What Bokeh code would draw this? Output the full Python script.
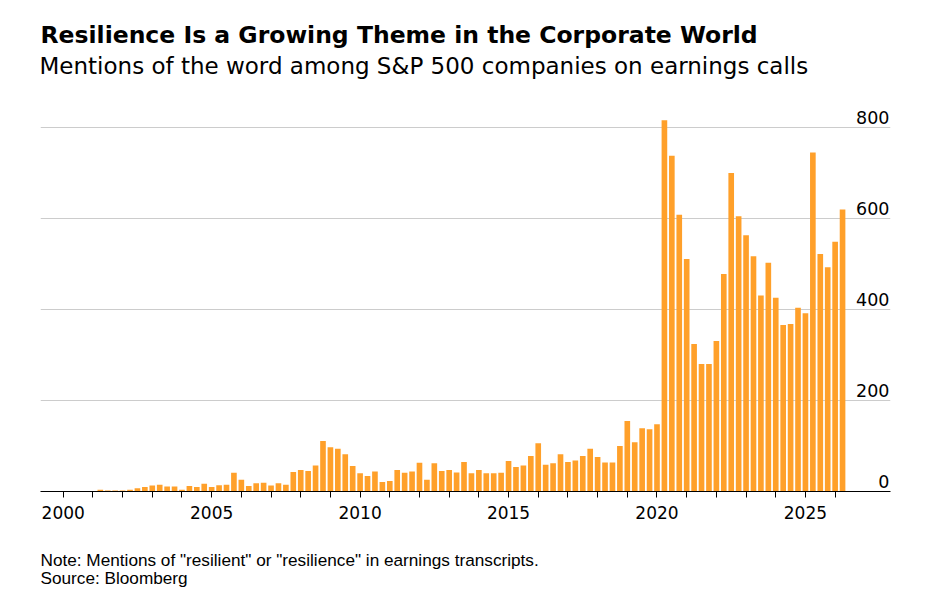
import pandas as pd
from bokeh.plotting import figure
from bokeh.models import FixedTicker, Title, Range1d, ColumnDataSource, Label
from bokeh.core.properties import value
from bokeh.embed import file_html
from bokeh.resources import INLINE

FONT = "DejaVu Sans"
FOOT_FONT = "Liberation Sans"

# Quarterly mentions, Q1 2001 .. Q1 2026 (bars dated at quarter end)
first_quarter = "2001Q1"
last_quarter = "2026Q1"
mentions = [
    4, 2, 2, 2,
    4, 7, 10, 13,
    15, 11, 11, 4,
    12, 10, 17, 10,
    14, 15, 41, 26,
    12, 18, 19, 13,
    18, 15, 43, 47,
    45, 57, 111, 97,
    94, 82, 56, 40,
    34, 44, 21, 23,
    47, 41, 44, 63,
    26, 62, 45, 47,
    42, 65, 40, 47,
    40, 40, 41, 67,
    54, 57, 78, 106,
    59, 62, 82, 65,
    68, 78, 94, 76,
    64, 64, 100, 155,
    108, 139, 137, 148,
    816, 738, 608, 511,
    324, 280, 280, 331,
    478, 700, 605, 563,
    517, 431, 503, 426,
    366, 368, 404, 392,
    745, 522, 493, 549,
    620,
]
y_ticks = [0, 200, 400, 600, 800]
y_tick_labels = ["0", "200", "400", "600", "800"]
x_tick_years = list(range(2000, 2027))
x_label_years = [2000, 2005, 2010, 2015, 2020, 2025]

title_text = "Resilience Is a Growing Theme in the Corporate World"
subtitle_text = "Mentions of the word among S&P 500 companies on earnings calls"
note_text = 'Note: Mentions of "resilient" or "resilience" in earnings transcripts.'
source_text = "Source: Bloomberg"

periods = pd.period_range(first_quarter, last_quarter, freq="Q")
x_vals = [p.year + p.quarter / 4 for p in periods]
src = ColumnDataSource(dict(x=x_vals, top=mentions))

# layout: frame spans from the top of the canvas to the baseline; the
# value scale is 0.455 px per mention so 800 sits 364 px above the baseline
FRAME_H = 491
PX_PER_UNIT = 0.455
Y_END = FRAME_H / PX_PER_UNIT
X0, X1 = 1999.235, 2027.865

p = figure(
    frame_width=850, frame_height=FRAME_H,
    min_border_left=40, min_border_right=40,
    min_border_top=0, min_border_bottom=6,
    x_range=Range1d(X0, X1), y_range=Range1d(0, Y_END),
    output_backend="svg", toolbar_location=None,
)
p.outline_line_color = None
p.background_fill_color = "white"
p.border_fill_color = "white"

p.vbar(x="x", top="top", width=0.19, bottom=0, source=src,
       fill_color="#FFA02A", line_color=None)

# grid
p.xgrid.visible = False
p.ygrid.ticker = FixedTicker(ticks=[t for t in y_ticks if t > 0])
p.ygrid.grid_line_color = "#CCCCCC"
p.ygrid.grid_line_width = 1
p.yaxis.visible = False

# right side value labels sitting above grid lines
lab = ColumnDataSource(dict(x=[X1] * len(y_ticks), y=y_ticks, t=y_tick_labels))
p.text(x="x", y="y", text="t", source=lab, text_align="right",
       text_baseline="alphabetic", y_offset=-10, x_offset=-1,
       text_font=value(FONT), text_font_size="17.5px", text_color="#000000")

# x axis
ax = p.xaxis[0]
ax.ticker = FixedTicker(ticks=x_tick_years)
ax.major_label_overrides = {y: (str(y) if y in x_label_years else "") for y in x_tick_years}
ax.minor_tick_line_color = None
ax.major_tick_in = 0
ax.major_tick_out = 6
ax.major_tick_line_color = "#000000"
ax.axis_line_color = "#000000"
ax.axis_line_width = 1.2
ax.major_label_text_font = FONT
ax.major_label_text_font_size = "17px"
ax.major_label_text_color = "#000000"
ax.major_label_standoff = 8

# title and subtitle positioned from the canvas top
def top_px(px):
    return Y_END - px / PX_PER_UNIT

p.add_layout(Label(x=X0, y=top_px(34), text=title_text, text_font=FONT,
                   text_font_size="23.5px", text_font_style="bold",
                   text_color="#000000", text_align="left",
                   text_baseline="alphabetic"))
p.add_layout(Label(x=X0, y=top_px(65), text=subtitle_text, text_font=FONT,
                   text_font_size="23px", text_font_style="normal",
                   text_color="#000000", text_align="left", x_offset=-1,
                   text_baseline="alphabetic"))

p.add_layout(Title(text=note_text + "\n" + source_text, text_font=FOOT_FONT,
                   text_font_size="17.2px", text_line_height=0.92,
                   text_font_style="normal", text_color="#000000", align="left",
                   standoff=54), "below")

open("out.html", "w").write(file_html(p, INLINE))
